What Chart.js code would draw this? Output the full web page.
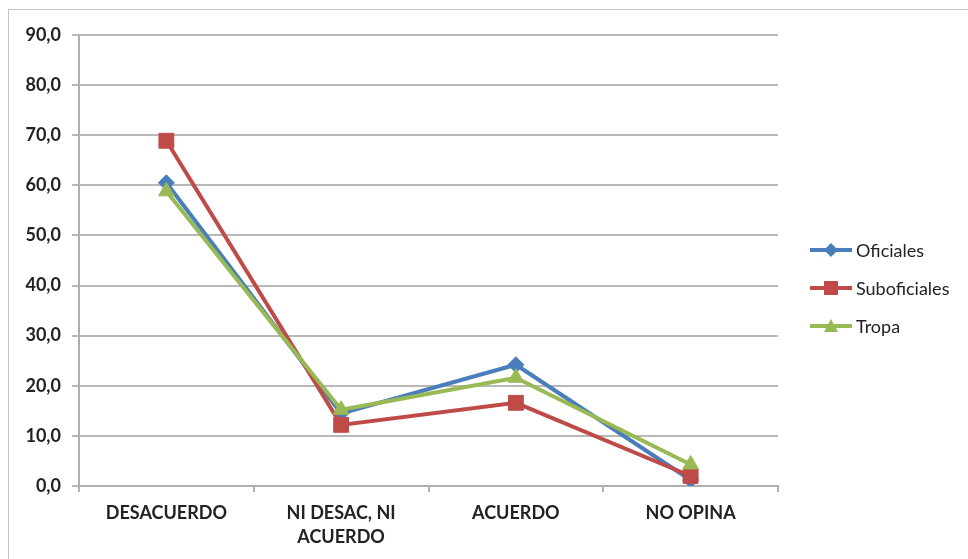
<!DOCTYPE html>
<html>
<head>
<meta charset="utf-8">
<script src="https://cdn.jsdelivr.net/npm/chart.js@4"></script>
<style>
  body { margin: 0; background: #fff; }
  #wrap { position: relative; width: 968px; height: 559px; overflow: hidden; }
  #frame { position: absolute; left: 8px; top: 9px; width: 980px; height: 570px; border: 1px solid #c4c4c4; }
  #chart { position: absolute; left: 0; top: 0; }
  #legend { position: absolute; left: 808px; top: 231px; font-family: Lato, sans-serif; font-size: 18px; color: #222; }
  .item { display: flex; align-items: center; height: 38px; }
  .item canvas { margin-right: 2px; }
</style>
</head>
<body>
<div id="wrap">
  <div id="frame"></div>
  <canvas id="chart" width="968" height="559"></canvas>
  <div id="legend"></div>
</div>
<script>
// categories and values
const categories = ["DESACUERDO", ["NI DESAC, NI", "ACUERDO"], "ACUERDO", "NO OPINA"];
const oficiales = [60.5, 14.5, 24.2, 1.2];
const suboficiales = [68.9, 12.2, 16.6, 2.0];
const tropa = [58.8, 15.2, 21.6, 4.3];
const yTicks = [0, 10, 20, 30, 40, 50, 60, 70, 80, 90];

const series = [
  { label: "Oficiales", data: oficiales, color: "#4a7ebb", style: "rectRot", radius: 8, order: 3 },
  { label: "Suboficiales", data: suboficiales, color: "#be4b48", style: "rect", radius: 10.5, order: 2 },
  { label: "Tropa", data: tropa, color: "#98b954", style: "triangle", radius: 9, order: 1 },
];

const ctx = document.getElementById("chart").getContext("2d");
new Chart(ctx, {
  type: "line",
  data: {
    labels: categories,
    datasets: series.map((s) => ({
      label: s.label,
      data: s.data,
      borderColor: s.color,
      backgroundColor: s.color,
      borderWidth: 4,
      pointStyle: s.style,
      pointRadius: s.radius,
      pointBorderWidth: 1,
      tension: 0,
      order: s.order,
    })),
  },
  options: {
    responsive: false,
    animation: false,
    layout: { padding: { top: 35, right: 190, left: 0, bottom: 0 } },
    plugins: { legend: { display: false }, tooltip: { enabled: false } },
    scales: {
      x: {
        offset: true,
        grid: { display: true, drawOnChartArea: false, offset: true, color: "#b0b0b0", lineWidth: 2, tickLength: 6 },
        border: { color: "#b0b0b0", width: 2 },
        ticks: {
          color: "#222",
          font: { family: "Lato", size: 18, weight: "bold", lineHeight: 1.35 },
          padding: 9,
          maxRotation: 0,
          autoSkip: false,
        },
        afterFit: (scale) => { scale.height = 73; },
      },
      y: {
        min: 0,
        max: 90,
        afterBuildTicks: (scale) => { scale.ticks = yTicks.map((v) => ({ value: v })); },
        grid: { color: "#b8b8b8", lineWidth: 2, tickLength: 7 },
        border: { color: "#b0b0b0", width: 2 },
        ticks: {
          color: "#222",
          font: { family: "Lato", size: 18, weight: "bold" },
          padding: 11,
          callback: (v) => v.toFixed(1).replace(".", ","),
        },
        afterFit: (scale) => { scale.width = 79; },
      },
    },
  },
});

// legend: line with marker, like the original
const legend = document.getElementById("legend");
series.forEach((s) => {
  const row = document.createElement("div");
  row.className = "item";
  const c = document.createElement("canvas");
  c.width = 46; c.height = 20;
  const g = c.getContext("2d");
  g.strokeStyle = s.color; g.lineWidth = 4;
  g.beginPath(); g.moveTo(2, 10); g.lineTo(44, 10); g.stroke();
  g.fillStyle = s.color;
  g.beginPath();
  if (s.style === "rect") g.rect(16, 3, 14, 14);
  else if (s.style === "rectRot") { g.moveTo(23, 3); g.lineTo(30, 10); g.lineTo(23, 17); g.lineTo(16, 10); g.closePath(); }
  else { g.moveTo(23, 3); g.lineTo(30, 16); g.lineTo(16, 16); g.closePath(); }
  g.fill();
  row.appendChild(c);
  const t = document.createElement("span");
  t.textContent = s.label;
  row.appendChild(t);
  legend.appendChild(row);
});
</script>
</body>
</html>
